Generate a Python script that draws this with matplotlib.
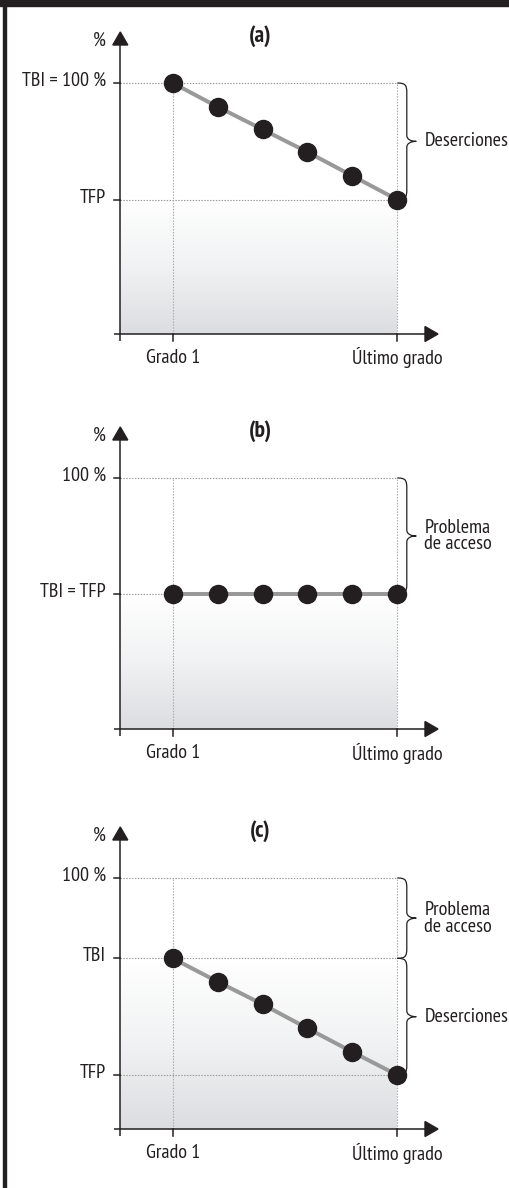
import matplotlib
matplotlib.use('Agg')
import matplotlib.pyplot as plt
import numpy as np
from matplotlib.path import Path
from matplotlib.patches import PathPatch, Polygon, Rectangle
from matplotlib.colors import LinearSegmentedColormap

# ---------------- data ----------------
grades = [1, 2, 3, 4, 5, 6]
grade_tick_pos = [1, 6]
grade_tick_labels = ["Grado 1", "Último grado"]

rates_a = [100, 90.5, 81.5, 72.5, 63, 53.5]
rates_b = [53.8, 53.8, 53.8, 53.8, 53.8, 53.8]
rates_c = [68, 58.7, 49.7, 40.1, 30.7, 21.5]

levels_a = [100, 53.5]
labels_a = ["TBI = 100 %", "TFP"]
levels_b = [100, 53.8]
labels_b = ["100 %", "TBI = TFP"]
levels_c = [100, 68, 21.5]
labels_c = ["100 %", "TBI", "TFP"]

fill_top_a = 53.5
fill_top_b = 53.8
fill_top_c = 68

braces_a = [(100, 53.5, "Deserciones")]
braces_b = [(100, 53.8, "Problema\nde acceso")]
braces_c = [(100, 68, "Problema\nde acceso"), (68, 21.5, "Deserciones")]

titles = ["(a)", "(b)", "(c)"]

# ---------------- layout ----------------
W, H = 510, 1188
PX_X = 44.92     # pixels per grade
PX_Y = 2.51      # pixels per percent point
G1_PX = 172.7    # pixel column of grade 1
origins = [334, 729, 1129]   # pixel row of each x axis

DARK = '#231f20'
plt.rcParams['font.family'] = ['PT Sans Narrow', 'Roboto Condensed', 'DejaVu Sans']
plt.rcParams['font.weight'] = 'normal'
FS = 14.5

fig = plt.figure(figsize=(W / 100, H / 100), dpi=100)
fig.patch.set_facecolor('white')

def dx(p):
    return p / PX_X

def dy(p):
    return p / PX_Y

grad_cmap = LinearSegmentedColormap.from_list('g', ['#ffffff', '#f1f2f3', '#dcdde0'])

def brace(ax, x0, ytop, ybot, label):
    xv = x0 + dx(9.5)
    xt = x0 + dx(19)
    ym = (ytop + ybot) / 2
    verts = [
        (x0, ytop),
        (x0 + dx(8), ytop), (xv, ytop - dy(2)), (xv, ytop - dy(10)),
        (xv, ym + dy(6)),
        (xv, ym + dy(2)), (xv + dx(4), ym), (xt, ym),
        (xv + dx(4), ym), (xv, ym - dy(2)), (xv, ym - dy(6)),
        (xv, ybot + dy(10)),
        (xv, ybot + dy(2)), (x0 + dx(8), ybot), (x0, ybot),
    ]
    codes = [Path.MOVETO,
             Path.CURVE4, Path.CURVE4, Path.CURVE4,
             Path.LINETO,
             Path.CURVE4, Path.CURVE4, Path.CURVE4,
             Path.CURVE4, Path.CURVE4, Path.CURVE4,
             Path.LINETO,
             Path.CURVE4, Path.CURVE4, Path.CURVE4]
    ax.add_patch(PathPatch(Path(verts, codes), facecolor='none',
                           edgecolor=DARK, lw=0.9, zorder=3))
    ax.text(x0 + dx(27), ym, label, ha='left', va='center', fontsize=FS,
            color=DARK, linespacing=0.92, fontweight='normal')

panels = [
    (rates_a, levels_a, labels_a, fill_top_a, braces_a),
    (rates_b, levels_b, labels_b, fill_top_b, braces_b),
    (rates_c, levels_c, labels_c, fill_top_c, braces_c),
]

for i, (rates, levels, labels, fill_top, braces) in enumerate(panels):
    row0 = origins[i]
    ax = fig.add_axes([0, 0, 1, 1], label=f'panel{i}')
    ax.axis('off')
    ax.patch.set_alpha(0)

    xa = 1 - dx(G1_PX - 120.3)          # y-axis column
    x_last = grades[-1]

    # gradient fill
    img = np.linspace(0, 1, 256).reshape(-1, 1)
    ax.imshow(img, extent=[xa, x_last, 0, fill_top], cmap=grad_cmap,
              aspect='auto', origin='upper', zorder=0, interpolation='bilinear')

    # dotted guide lines
    for lv in levels:
        ax.plot([xa, x_last], [lv, lv], color='#9a9a9a', lw=0.8,
                ls=(0, (1.3, 1.3)), zorder=1)
    for gx in grade_tick_pos:
        ax.plot([gx, gx], [0, levels[0]], color='#ababab', lw=0.8,
                ls=(0, (1.3, 1.3)), zorder=1)

    # series
    ax.plot(grades, rates, color='#999999', lw=2.9, zorder=2,
            solid_capstyle='butt')
    ax.plot(grades, rates, ls='none', marker='o', ms=13,
            color=DARK, mec=DARK, zorder=4)

    # axes with arrows
    v_tip = dy(302)
    ax.plot([xa, xa], [dy(-7), v_tip - dy(12)], color=DARK, lw=1.1, zorder=5,
            solid_capstyle='butt')
    ax.add_patch(Polygon([(xa - dx(7.5), v_tip - dy(13)),
                          (xa + dx(7.5), v_tip - dy(13)),
                          (xa, v_tip)], closed=True, color=DARK, zorder=5))
    x_start = 1 + dx(114 - G1_PX)
    x_tip = 1 + dx(438 - G1_PX)
    ax.plot([x_start, x_tip - dx(12)], [0, 0], color=DARK, lw=1.1, zorder=5,
            solid_capstyle='butt')
    ax.add_patch(Polygon([(x_tip - dx(13), dy(7.5)),
                          (x_tip - dx(13), -dy(7.5)),
                          (x_tip, 0)], closed=True, color=DARK, zorder=5))

    # y ticks & labels
    for lv, lb in zip(levels, labels):
        ax.plot([xa - dx(6.3), xa], [lv, lv], color=DARK, lw=1.1, zorder=5)
        ax.text(1 + dx(106 - G1_PX), lv + dy(2), lb, ha='right',
                va='center', fontsize=FS, color=DARK, fontweight='normal')
    # x ticks & labels
    for gx, gl in zip(grade_tick_pos, grade_tick_labels):
        ax.plot([gx, gx], [0, -dy(7)], color=DARK, lw=1.1, zorder=5)
        ax.text(gx, -dy(24), gl, ha='center', va='center', fontsize=FS,
                color=DARK, fontweight='normal')

    # % label and title
    ax.text(1 + dx(106 - G1_PX), dy(293), '%', ha='right', va='center',
            fontsize=FS, color=DARK, fontweight='normal')
    ax.text(1 + dx(260 - G1_PX), dy(297.5), titles[i], ha='center',
            va='center', fontsize=17, fontweight='bold', color=DARK)

    # braces
    for (yt, yb, lab) in braces:
        brace(ax, x_last, yt, yb, lab)

    ax.set_xlim(1 - G1_PX / PX_X, 1 + (W - G1_PX) / PX_X)
    ax.set_ylim((row0 - H) / PX_Y, row0 / PX_Y)

# frame: top band and left border
fig.patches.append(Rectangle((0, 1 - 6 / H), 1, 6 / H, transform=fig.transFigure,
                             color=DARK, zorder=10))
fig.patches.append(Rectangle((3 / W, 0), 3 / W, 1, transform=fig.transFigure,
                             color=DARK, zorder=10))

fig.savefig('out.png', dpi=100, facecolor='white')
